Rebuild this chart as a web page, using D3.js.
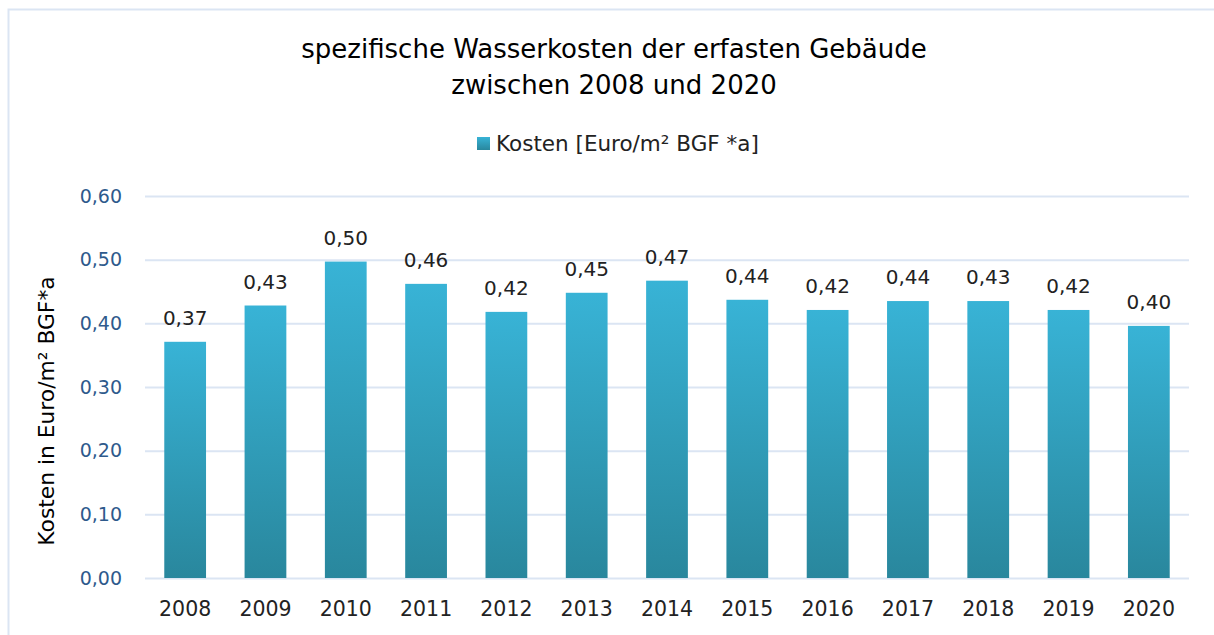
<!DOCTYPE html>
<html>
<head>
<meta charset="utf-8">
<script src="https://cdn.jsdelivr.net/npm/d3@7"></script>
<style>
  body { margin: 0; background: white; font-family: 'DejaVu Sans', sans-serif; }
  .grid line { stroke: #dbe5f3; stroke-width: 2px; }
  .grid path { display: none; }
  .yaxis text { fill: #2e5a8c; font-size: 19px; font-family: 'DejaVu Sans', sans-serif; }
  .xaxis text { fill: #222; font-size: 20.5px; font-family: 'DejaVu Sans', sans-serif; }
  .yaxis path, .yaxis line, .xaxis path, .xaxis line { display: none; }
</style>
</head>
<body>
<script>

var years = ["2008","2009","2010","2011","2012","2013","2014","2015","2016","2017","2018","2019","2020"];
var kosten = [0.371, 0.428, 0.497, 0.462, 0.418, 0.448, 0.467, 0.437, 0.421, 0.435, 0.435, 0.421, 0.396];
var labels = ["0,37","0,43","0,50","0,46","0,42","0,45","0,47","0,44","0,42","0,44","0,43","0,42","0,40"];
var yTicks = [0, 0.1, 0.2, 0.3, 0.4, 0.5, 0.6];

var W = 1214, H = 635;
var margin = {top: 196, right: 25, bottom: 57, left: 145},
    width = W - margin.left - margin.right,
    height = H - margin.top - margin.bottom;

var svg = d3.select("body").append("svg")
    .attr("width", W)
    .attr("height", H);

// outer frame
svg.append("path")
    .attr("d", "M8.5," + H + "V9.5H" + W)
    .attr("fill", "none")
    .attr("stroke", "#dbe5f3")
    .attr("stroke-width", 2);

var defs = svg.append("defs");
var grad = defs.append("linearGradient")
    .attr("id", "barGrad")
    .attr("x1", 0).attr("y1", 0).attr("x2", 0).attr("y2", 1);
grad.append("stop").attr("offset", "0%").attr("stop-color", "#38b3d6");
grad.append("stop").attr("offset", "100%").attr("stop-color", "#29879d");

var g = svg.append("g")
    .attr("transform", "translate(" + margin.left + "," + margin.top + ")");

var x = d3.scaleBand().domain(years).range([0, width]).paddingInner(0.48).paddingOuter(0.24);
var y = d3.scaleLinear().domain([0, 0.6]).range([height, 0]);

g.append("g")
    .attr("class", "grid")
    .call(d3.axisLeft(y).tickValues(yTicks).tickSize(-width).tickFormat(""));

g.append("g")
    .attr("class", "yaxis")
    .attr("transform", "translate(-20,0)")
    .call(d3.axisLeft(y).tickValues(yTicks).tickSize(0).tickFormat(function(d) { return d3.format(".2f")(d).replace(".", ","); }));

g.append("g")
    .attr("class", "xaxis")
    .attr("transform", "translate(0," + height + ")")
    .call(d3.axisBottom(x).tickSize(0).tickPadding(23));

g.selectAll(".bar")
    .data(kosten)
    .enter().append("rect")
    .attr("class", "bar")
    .attr("x", function(d, i) { return x(years[i]); })
    .attr("y", function(d) { return y(d); })
    .attr("width", x.bandwidth())
    .attr("height", function(d) { return height - y(d); })
    .attr("fill", "url(#barGrad)");

g.selectAll(".lbl")
    .data(kosten)
    .enter().append("text")
    .attr("class", "lbl")
    .attr("x", function(d, i) { return x(years[i]) + x.bandwidth() / 2; })
    .attr("y", function(d) { return y(d) - 17; })
    .attr("text-anchor", "middle")
    .attr("font-size", 20)
    .attr("fill", "#222")
    .text(function(d, i) { return labels[i]; });

// title
var title = svg.append("text")
    .attr("text-anchor", "middle")
    .attr("font-size", 26)
    .attr("fill", "#000");
title.append("tspan").attr("x", 614).attr("y", 58).text("spezifische Wasserkosten der erfasten Gebäude");
title.append("tspan").attr("x", 614).attr("y", 94).text("zwischen 2008 und 2020");

// legend
svg.append("rect")
    .attr("x", 477).attr("y", 137).attr("width", 13).attr("height", 13)
    .attr("fill", "url(#barGrad)");
svg.append("text")
    .attr("x", 496).attr("y", 151)
    .attr("font-size", 21.5)
    .attr("fill", "#222")
    .text("Kosten [Euro/m² BGF *a]");

// y label
svg.append("text")
    .attr("transform", "translate(54,411) rotate(-90)")
    .attr("text-anchor", "middle")
    .attr("font-size", 21.8)
    .attr("fill", "#000")
    .text("Kosten in Euro/m² BGF*a");

</script>
</body>
</html>
